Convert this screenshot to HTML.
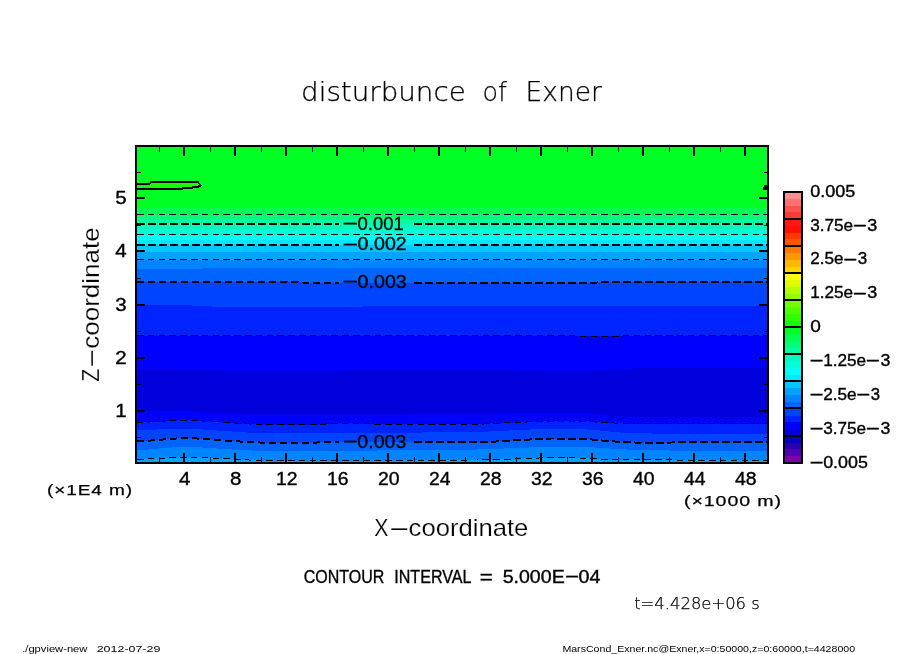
<!DOCTYPE html>
<html lang="en"><head><meta charset="utf-8"><title>disturbunce of Exner</title>
<style>
html,body{margin:0;padding:0;background:#fff;}
body{width:904px;height:654px;overflow:hidden;}
svg{display:block;}
text{font-family:"Liberation Sans","DejaVu Sans",sans-serif;fill:#000;}
.thin{font-family:"DejaVu Sans Light","DejaVu Sans","Liberation Sans",sans-serif;font-weight:200;}
.ce{shape-rendering:crispEdges;}
.b{stroke:#000;stroke-width:0.35px;}
.l{stroke:#fff;stroke-width:0.2px;}
.u{letter-spacing:0.7px;stroke:#000;stroke-width:0.25px;}
.thin{stroke:#000;stroke-width:0.25px;}
</style></head><body>
<svg width="904" height="654" viewBox="0 0 904 654">
<rect x="0" y="0" width="904" height="654" fill="#fff"/>
<g class="ce">
<rect x="137" y="147" width="630" height="315" fill="#00ff24"/>
<polygon points="137,207.6 767,207.6 767,462 137,462" fill="#00ff50"/>
<polygon points="137,214.5 767,214.5 767,462 137,462" fill="#00ff78"/>
<polygon points="137,219.1 767,219.1 767,462 137,462" fill="#00ffa0"/>
<polygon points="137,224 767,224 767,462 137,462" fill="#00ffb8"/>
<polygon points="137,229 767,229 767,462 137,462" fill="#00ffd8"/>
<polygon points="137,234.5 767,234.5 767,462 137,462" fill="#00fff8"/>
<polygon points="137,239.8 767,239.8 767,462 137,462" fill="#00e8ff"/>
<polygon points="137,245 767,245 767,462 137,462" fill="#00c8ff"/>
<polygon points="137,252 767,252 767,462 137,462" fill="#00a4ff"/>
<polygon points="137,259.5 767,259.5 767,462 137,462" fill="#0084ff"/>
<polygon points="137,269 147,268.9 157,268.8 167,268.8 177,268.7 187,268.6 197,268.5 202,268.5 207,268.4 212,268.3 217,268.2 222,268.1 227,268 232,268 237,267.9 242,267.8 247,267.7 252,267.6 257,267.6 267,267.5 767,267.5 767,462 137,462" fill="#0064ff"/>
<polygon points="137,282 177,282.1 217,282.1 257,282.2 282,282.2 287,282.3 292,282.4 297,282.4 302,282.5 307,282.6 312,282.6 317,282.7 322,282.8 327,282.8 332,282.9 337,282.9 347,283 532,282.9 542,282.8 552,282.8 562,282.7 572,282.6 582,282.6 592,282.5 602,282.4 612,282.4 622,282.3 647,282.2 672,282.2 697,282.1 722,282.1 747,282 767,282 767,462 137,462" fill="#0044ff"/>
<polygon points="137,304.9 167,305 182,305 187,305.2 192,305.5 197,305.9 202,306.3 207,306.4 212,306.5 362,306.5 367,306.4 372,306.2 377,306 382,305.7 387,305.6 547,305.7 647,305.7 747,305.8 767,305.8 767,462 137,462" fill="#0024ff"/>
<polygon points="137,335.5 557,335.5 562,335.6 567,335.7 572,335.8 577,336 582,336.1 587,336.3 592,336.4 597,336.5 602,336.4 607,336.4 612,336.2 617,336.1 622,336 627,335.8 632,335.7 637,335.6 642,335.5 767,335.5 767,462 137,462" fill="#0000ff"/>
<polygon points="137,368.6 142,368.6 147,368.8 152,368.9 157,369 162,369.1 167,369.3 172,369.4 177,369.5 182,369.6 187,369.8 192,369.9 197,370 202,370.1 207,370.3 212,370.4 217,370.5 222,370.6 227,370.8 232,370.9 237,370.9 262,370.9 272,370.8 282,370.8 292,370.7 302,370.7 312,370.6 322,370.6 332,370.5 342,370.5 352,370.4 362,370.4 372,370.3 382,370.2 392,370.2 402,370.1 412,370.1 422,370 432,370 447,369.9 462,370 472,370.1 482,370.2 492,370.2 502,370.3 512,370.4 522,370.5 532,370.5 542,370.6 552,370.7 562,370.8 572,370.9 582,370.9 587,370.9 592,370.7 597,370.5 602,370.1 607,369.8 612,369.4 617,369.1 622,368.8 627,368.6 632,368.5 642,368.4 657,368.4 672,368.3 687,368.3 702,368.2 717,368.2 732,368.1 747,368.1 762,368 767,368 767,462 137,462" fill="#0000dc"/>
<polygon points="137,411 152,410.9 167,410.9 177,410.8 182,410.9 187,411 192,411.3 197,411.6 202,411.9 207,412.3 212,412.6 217,412.9 222,413.2 227,413.4 232,413.6 237,413.8 242,414 247,414.2 252,414.5 257,414.6 262,414.8 267,414.9 272,414.9 277,415 282,415.1 287,415.1 292,415.2 302,415.3 317,415.2 327,415.1 337,415 347,414.9 357,414.8 367,414.8 377,414.7 387,414.6 397,414.5 407,414.5 417,414.4 427,414.3 437,414.3 447,414.2 457,414.1 467,414.1 477,414 482,413.9 487,413.8 492,413.7 497,413.6 502,413.5 507,413.4 512,413.3 517,413.1 522,413 527,412.9 532,412.8 537,412.7 562,412.8 572,412.9 577,412.9 582,413 587,413.1 592,413.5 597,414 602,414.6 607,415.2 612,415.8 617,416.1 622,416.4 627,416.5 632,416.5 637,416.6 642,416.7 647,416.8 652,416.8 657,416.9 662,417 667,417.1 672,417.1 677,417.2 682,417.3 692,417.3 702,417.3 707,417.2 712,417.1 717,417.1 722,417 727,417 732,416.9 737,416.9 742,416.8 747,416.7 752,416.7 757,416.6 762,416.6 767,416.5 767,462 137,462" fill="#0000ff"/>
<polygon points="137,422.6 142,422.4 147,422.1 152,421.9 157,421.6 162,421.3 167,421 172,420.7 177,420.5 182,420.3 187,420.3 192,420.5 197,420.7 202,421 207,421.3 212,421.6 217,421.9 222,422.2 227,422.5 232,422.8 237,423.2 242,423.5 247,423.8 252,424.2 257,424.5 262,424.7 267,424.9 312,424.9 317,424.7 322,424.3 327,423.9 332,423.6 337,423.4 357,423.4 362,423.6 367,423.8 372,424.1 377,424.3 382,424.4 472,424.4 477,424.3 482,424.1 487,423.8 492,423.4 497,423.2 502,422.9 507,422.8 512,422.6 517,422.4 522,422.2 527,422 532,421.8 537,421.6 542,421.4 547,421.3 552,421.2 582,421.2 587,421.4 592,421.7 597,422.1 602,422.5 607,422.7 612,422.9 617,423.2 622,423.3 627,423.5 632,423.7 637,423.8 642,423.8 687,423.8 712,423.7 737,423.7 762,423.6 767,423.6 767,462 137,462" fill="#0024ff"/>
<polygon points="137,430.3 142,430.2 147,430 152,429.7 157,429.5 162,429.3 167,429.1 172,428.9 177,428.7 182,428.6 187,428.6 192,428.8 197,429.1 202,429.4 207,429.8 212,430.1 217,430.5 222,430.8 227,431.1 232,431.5 237,431.8 242,432.2 247,432.5 252,432.9 257,433.2 262,433.4 267,433.5 272,433.4 277,433.4 282,433.3 287,433.2 292,433.1 297,433.1 302,433 307,432.9 312,432.8 317,432.8 327,432.7 407,432.6 412,432.6 417,432.5 422,432.5 427,432.4 432,432.4 437,432.3 442,432.3 452,432.2 457,432.1 462,432.1 467,432 472,432 477,431.9 482,431.7 487,431.6 492,431.3 497,431.1 502,430.9 507,430.6 512,430.4 517,430.1 522,429.9 527,429.7 532,429.4 537,429.2 542,429 547,428.9 557,429 562,429 567,429.1 572,429.2 577,429.2 582,429.3 587,429.5 592,429.8 597,430.2 602,430.7 607,431.3 612,431.8 617,432.3 622,432.6 627,432.8 632,433 637,433.1 642,433.2 647,433.4 652,433.5 657,433.6 662,433.7 667,433.8 672,434 677,434.1 682,434.2 687,434.3 702,434.3 707,434.2 712,434.1 717,434.1 722,434 727,434 732,433.9 737,433.9 742,433.8 747,433.7 752,433.7 757,433.6 762,433.6 767,433.5 767,462 137,462" fill="#0044ff"/>
<polygon points="137,441.4 142,441.1 147,440.8 152,440.4 157,440 162,439.6 167,439.2 172,438.8 177,438.4 182,438.1 187,438.1 192,438.2 197,438.5 202,438.9 207,439.2 212,439.6 217,439.9 222,440.3 227,440.6 232,440.9 237,441.3 242,441.6 247,441.9 252,442.2 257,442.4 262,442.6 267,442.7 302,442.6 307,442.6 312,442.5 317,442.5 322,442.4 327,442.3 332,442.3 342,442.2 482,442.2 487,442.1 492,441.8 497,441.4 502,441 507,440.7 512,440.5 517,440.3 522,440 527,439.7 532,439.4 537,439.1 542,438.8 547,438.6 552,438.5 577,438.5 582,438.7 587,439 592,439.5 597,440 602,440.5 607,441 612,441.3 617,441.7 622,441.9 627,442.2 632,442.4 637,442.6 642,442.7 647,442.8 652,442.8 657,442.7 662,442.6 667,442.6 672,442.5 677,442.4 682,442.3 687,442.3 692,442.2 702,442.1 712,442.1 722,442 732,441.9 742,441.9 752,441.8 762,441.7 767,441.7 767,462 137,462" fill="#0064ff"/>
<polygon points="137,450.2 142,449.9 147,449.6 152,449.1 157,448.7 162,448.3 167,447.9 172,447.5 177,447.1 182,446.8 187,446.8 192,446.9 197,447.2 202,447.5 207,447.8 212,448.2 217,448.5 222,448.8 227,449.1 232,449.5 237,449.8 242,450.1 247,450.3 252,450.5 257,450.7 262,450.9 267,451 287,450.9 302,450.8 317,450.8 332,450.7 347,450.6 362,450.6 377,450.5 392,450.4 402,450.4 407,450.3 412,450.3 417,450.2 422,450.2 427,450.1 432,450 437,450 442,449.9 447,449.9 452,449.8 457,449.8 462,449.7 467,449.6 472,449.6 477,449.5 482,449.4 487,449.2 492,449 497,448.8 502,448.6 507,448.4 512,448.2 517,448 522,447.8 527,447.6 532,447.4 537,447.2 542,447.1 547,447 567,447 577,447.1 582,447.2 587,447.3 592,447.4 597,447.7 602,448 607,448.4 612,448.7 617,449 622,449.3 627,449.5 632,449.6 637,449.7 642,449.8 647,450 652,450.1 657,450.2 662,450.3 667,450.4 672,450.6 677,450.7 682,450.8 687,450.9 697,450.9 707,450.9 717,450.8 727,450.8 737,450.7 747,450.6 757,450.6 767,450.5 767,462 137,462" fill="#0084ff"/>
<polygon points="137,459.2 142,459.1 147,458.9 152,458.6 157,458.4 162,458.2 167,458 172,457.8 177,457.6 182,457.4 187,457.2 192,457.2 197,457.4 202,457.6 207,457.9 212,458.1 217,458.3 222,458.6 227,458.9 232,459.1 237,459.4 242,459.6 247,459.9 252,460.2 257,460.4 262,460.6 267,460.7 327,460.6 362,460.6 397,460.5 422,460.4 442,460.4 447,460.3 452,460.3 457,460.2 462,460.1 467,460.1 472,460 477,460 482,459.9 487,459.8 492,459.7 497,459.6 502,459.4 507,459.2 512,459.1 517,458.9 522,458.7 527,458.5 532,458.3 537,458.1 542,457.9 547,457.8 562,457.9 572,457.9 577,458 582,458.1 587,458.2 592,458.5 597,458.9 602,459.3 607,459.6 612,459.7 622,459.7 632,459.8 642,459.8 652,459.9 662,459.9 672,460 682,460.1 692,460.1 707,460.2 722,460.2 737,460.3 752,460.3 767,460.4 767,462 137,462" fill="#00a4ff"/>
<polygon points="137,183 150,183 151,182 198,182 200.5,185.3 198,187 192.5,187 192,188 182.5,188 182,189 137,189" fill="#14ff00"/>
</g>
<g fill="none" stroke="#000" class="ce">
<path d="M137,214.5 L767,214.5" stroke-width="1" stroke-dasharray="6.5 4.3"/>
<path d="M137,224 L338.6,224" stroke-width="2" stroke-dasharray="7.5 3.5"/>
<path d="M414.3,224 L767,224" stroke-width="2" stroke-dasharray="7.5 3.5"/>
<path d="M137,234.5 L767,234.5" stroke-width="1" stroke-dasharray="6.5 4.3"/>
<path d="M137,245 L338.6,245" stroke-width="2" stroke-dasharray="7.5 3.5"/>
<path d="M414.3,245 L767,245" stroke-width="2" stroke-dasharray="7.5 3.5"/>
<path d="M137,259.5 L767,259.5" stroke-width="1" stroke-dasharray="6.5 4.3"/>
<path d="M137,282 L177,282.1 L217,282.1 L257,282.2 L282,282.2 L287,282.3 L292,282.4 L297,282.4 L302,282.5 L307,282.6 L312,282.6 L317,282.7 L322,282.8 L327,282.8 L332,282.9 L337,282.9 L338.6,283" stroke-width="2" stroke-dasharray="7.5 3.5"/>
<path d="M414.3,283 L527,282.9 L537,282.9 L547,282.8 L557,282.7 L567,282.7 L577,282.6 L587,282.5 L597,282.5 L607,282.4 L617,282.3 L632,282.3 L657,282.2 L682,282.2 L707,282.1 L732,282.1 L757,282 L767,282" stroke-width="2" stroke-dasharray="7.5 3.5"/>
<path d="M137,335.5 L557,335.5 L562,335.6 L567,335.7 L572,335.8 L577,336 L582,336.1 L587,336.3 L592,336.4 L597,336.5 L602,336.4 L607,336.4 L612,336.2 L617,336.1 L622,336 L627,335.8 L632,335.7 L637,335.6 L642,335.5 L767,335.5" stroke-width="1" stroke-dasharray="6.5 4.3"/>
<path d="M137,422.6 L142,422.4 L147,422.1 L152,421.9 L157,421.6 L162,421.3 L167,421 L172,420.7 L177,420.5 L182,420.3 L187,420.3 L192,420.5 L197,420.7 L202,421 L207,421.3 L212,421.6 L217,421.9 L222,422.2 L227,422.5 L232,422.8 L237,423.2 L242,423.5 L247,423.8 L252,424.2 L257,424.5 L262,424.7 L267,424.9 L312,424.9 L317,424.7 L322,424.3 L327,423.9 L332,423.6 L337,423.4 L357,423.4 L362,423.6 L367,423.8 L372,424.1 L377,424.3 L382,424.4 L472,424.4 L477,424.3 L482,424.1 L487,423.8 L492,423.4 L497,423.2 L502,422.9 L507,422.8 L512,422.6 L517,422.4 L522,422.2 L527,422 L532,421.8 L537,421.6 L542,421.4 L547,421.3 L552,421.2 L582,421.2 L587,421.4 L592,421.7 L597,422.1 L602,422.5 L607,422.7 L612,422.9 L617,423.2 L622,423.3 L627,423.5 L632,423.7 L637,423.8 L642,423.8 L687,423.8 L712,423.7 L737,423.7 L762,423.6 L767,423.6" stroke-width="1" stroke-dasharray="6.5 4.3"/>
<path d="M137,441.4 L142,441.1 L147,440.8 L152,440.4 L157,440 L162,439.6 L167,439.2 L172,438.8 L177,438.4 L182,438.1 L187,438.1 L192,438.2 L197,438.5 L202,438.9 L207,439.2 L212,439.6 L217,439.9 L222,440.3 L227,440.6 L232,440.9 L237,441.3 L242,441.6 L247,441.9 L252,442.2 L257,442.4 L262,442.6 L267,442.7 L302,442.6 L307,442.6 L312,442.5 L317,442.5 L322,442.4 L327,442.3 L332,442.3 L338.6,442.2" stroke-width="2" stroke-dasharray="7.5 3.5"/>
<path d="M414.3,442.2 L482,442.2 L487,442.1 L492,441.8 L497,441.4 L502,441 L507,440.7 L512,440.5 L517,440.3 L522,440 L527,439.7 L532,439.4 L537,439.1 L542,438.8 L547,438.6 L552,438.5 L577,438.5 L582,438.7 L587,439 L592,439.5 L597,440 L602,440.5 L607,441 L612,441.3 L617,441.7 L622,441.9 L627,442.2 L632,442.4 L637,442.6 L642,442.7 L647,442.8 L652,442.8 L657,442.7 L662,442.6 L667,442.6 L672,442.5 L677,442.4 L682,442.3 L687,442.3 L692,442.2 L702,442.1 L712,442.1 L722,442 L732,441.9 L742,441.9 L752,441.8 L762,441.7 L767,441.7" stroke-width="2" stroke-dasharray="7.5 3.5"/>
<path d="M137,459.2 L142,459.1 L147,458.9 L152,458.6 L157,458.4 L162,458.2 L167,458 L172,457.8 L177,457.6 L182,457.4 L187,457.2 L192,457.2 L197,457.4 L202,457.6 L207,457.9 L212,458.1 L217,458.3 L222,458.6 L227,458.9 L232,459.1 L237,459.4 L242,459.6 L247,459.9 L252,460.2 L257,460.4 L262,460.6 L267,460.7 L327,460.6 L362,460.6 L397,460.5 L422,460.4 L442,460.4 L447,460.3 L452,460.3 L457,460.2 L462,460.1 L467,460.1 L472,460 L477,460 L482,459.9 L487,459.8 L492,459.7 L497,459.6 L502,459.4 L507,459.2 L512,459.1 L517,458.9 L522,458.7 L527,458.5 L532,458.3 L537,458.1 L542,457.9 L547,457.8 L562,457.9 L572,457.9 L577,458 L582,458.1 L587,458.2 L592,458.5 L597,458.9 L602,459.3 L607,459.6 L612,459.7 L622,459.7 L632,459.8 L642,459.8 L652,459.9 L662,459.9 L672,460 L682,460.1 L692,460.1 L707,460.2 L722,460.2 L737,460.3 L752,460.3 L767,460.4" stroke-width="1" stroke-dasharray="6.5 4.3"/>
<path d="M137,183.5 L150,183.5 L151,182.3 L198,182.3 L200.6,185.3 L198,187 L192.5,187 L192,188 L182.5,188 L182,189.2 L137,189.2" stroke-width="2"/>
<path d="M767,185.5 L764.5,186 L763.5,188 L764,189.5 L767,189.5 Z" fill="#000" stroke-width="1"/>
</g>
<g fill="none" stroke="#000" class="ce">
<rect x="136" y="146" width="632" height="317" stroke-width="2"/>
<line x1="159.5" y1="147" x2="159.5" y2="152" stroke-width="1"/>
<line x1="159.5" y1="462" x2="159.5" y2="457" stroke-width="1"/>
<line x1="184" y1="147" x2="184" y2="156" stroke-width="2"/>
<line x1="184" y1="462" x2="184" y2="453" stroke-width="2"/>
<line x1="210.5" y1="147" x2="210.5" y2="152" stroke-width="1"/>
<line x1="210.5" y1="462" x2="210.5" y2="457" stroke-width="1"/>
<line x1="235" y1="147" x2="235" y2="156" stroke-width="2"/>
<line x1="235" y1="462" x2="235" y2="453" stroke-width="2"/>
<line x1="261.5" y1="147" x2="261.5" y2="152" stroke-width="1"/>
<line x1="261.5" y1="462" x2="261.5" y2="457" stroke-width="1"/>
<line x1="286" y1="147" x2="286" y2="156" stroke-width="2"/>
<line x1="286" y1="462" x2="286" y2="453" stroke-width="2"/>
<line x1="312.5" y1="147" x2="312.5" y2="152" stroke-width="1"/>
<line x1="312.5" y1="462" x2="312.5" y2="457" stroke-width="1"/>
<line x1="337" y1="147" x2="337" y2="156" stroke-width="2"/>
<line x1="337" y1="462" x2="337" y2="453" stroke-width="2"/>
<line x1="363.5" y1="147" x2="363.5" y2="152" stroke-width="1"/>
<line x1="363.5" y1="462" x2="363.5" y2="457" stroke-width="1"/>
<line x1="388" y1="147" x2="388" y2="156" stroke-width="2"/>
<line x1="388" y1="462" x2="388" y2="453" stroke-width="2"/>
<line x1="414.5" y1="147" x2="414.5" y2="152" stroke-width="1"/>
<line x1="414.5" y1="462" x2="414.5" y2="457" stroke-width="1"/>
<line x1="439" y1="147" x2="439" y2="156" stroke-width="2"/>
<line x1="439" y1="462" x2="439" y2="453" stroke-width="2"/>
<line x1="465.5" y1="147" x2="465.5" y2="152" stroke-width="1"/>
<line x1="465.5" y1="462" x2="465.5" y2="457" stroke-width="1"/>
<line x1="490" y1="147" x2="490" y2="156" stroke-width="2"/>
<line x1="490" y1="462" x2="490" y2="453" stroke-width="2"/>
<line x1="516.5" y1="147" x2="516.5" y2="152" stroke-width="1"/>
<line x1="516.5" y1="462" x2="516.5" y2="457" stroke-width="1"/>
<line x1="541" y1="147" x2="541" y2="156" stroke-width="2"/>
<line x1="541" y1="462" x2="541" y2="453" stroke-width="2"/>
<line x1="567.5" y1="147" x2="567.5" y2="152" stroke-width="1"/>
<line x1="567.5" y1="462" x2="567.5" y2="457" stroke-width="1"/>
<line x1="592" y1="147" x2="592" y2="156" stroke-width="2"/>
<line x1="592" y1="462" x2="592" y2="453" stroke-width="2"/>
<line x1="618.5" y1="147" x2="618.5" y2="152" stroke-width="1"/>
<line x1="618.5" y1="462" x2="618.5" y2="457" stroke-width="1"/>
<line x1="643" y1="147" x2="643" y2="156" stroke-width="2"/>
<line x1="643" y1="462" x2="643" y2="453" stroke-width="2"/>
<line x1="669.5" y1="147" x2="669.5" y2="152" stroke-width="1"/>
<line x1="669.5" y1="462" x2="669.5" y2="457" stroke-width="1"/>
<line x1="694" y1="147" x2="694" y2="156" stroke-width="2"/>
<line x1="694" y1="462" x2="694" y2="453" stroke-width="2"/>
<line x1="720.5" y1="147" x2="720.5" y2="152" stroke-width="1"/>
<line x1="720.5" y1="462" x2="720.5" y2="457" stroke-width="1"/>
<line x1="745" y1="147" x2="745" y2="156" stroke-width="2"/>
<line x1="745" y1="462" x2="745" y2="453" stroke-width="2"/>
<line x1="137" y1="198" x2="145" y2="198" stroke-width="2"/>
<line x1="767" y1="198" x2="759" y2="198" stroke-width="2"/>
<line x1="137" y1="251" x2="145" y2="251" stroke-width="2"/>
<line x1="767" y1="251" x2="759" y2="251" stroke-width="2"/>
<line x1="137" y1="305" x2="145" y2="305" stroke-width="2"/>
<line x1="767" y1="305" x2="759" y2="305" stroke-width="2"/>
<line x1="137" y1="358" x2="145" y2="358" stroke-width="2"/>
<line x1="767" y1="358" x2="759" y2="358" stroke-width="2"/>
<line x1="137" y1="411" x2="145" y2="411" stroke-width="2"/>
<line x1="767" y1="411" x2="759" y2="411" stroke-width="2"/>
<line x1="137" y1="172.5" x2="141" y2="172.5" stroke-width="1"/>
<line x1="767" y1="172.5" x2="764" y2="172.5" stroke-width="1"/>
<line x1="137" y1="225.5" x2="141" y2="225.5" stroke-width="1"/>
<line x1="767" y1="225.5" x2="764" y2="225.5" stroke-width="1"/>
<line x1="137" y1="278.5" x2="141" y2="278.5" stroke-width="1"/>
<line x1="767" y1="278.5" x2="764" y2="278.5" stroke-width="1"/>
<line x1="137" y1="331.5" x2="141" y2="331.5" stroke-width="1"/>
<line x1="767" y1="331.5" x2="764" y2="331.5" stroke-width="1"/>
<line x1="137" y1="384.5" x2="141" y2="384.5" stroke-width="1"/>
<line x1="767" y1="384.5" x2="764" y2="384.5" stroke-width="1"/>
<line x1="137" y1="437.5" x2="141" y2="437.5" stroke-width="1"/>
<line x1="767" y1="437.5" x2="764" y2="437.5" stroke-width="1"/>
</g>
<g class="ce">
<rect x="784" y="192.00" width="18" height="7.38" fill="#ff9090"/>
<rect x="784" y="198.78" width="18" height="7.38" fill="#ff7070"/>
<rect x="784" y="205.55" width="18" height="7.38" fill="#ff5050"/>
<rect x="784" y="212.32" width="18" height="7.38" fill="#ff3838"/>
<rect x="784" y="219.10" width="18" height="7.38" fill="#ff1818"/>
<rect x="784" y="225.88" width="18" height="7.38" fill="#ff1000"/>
<rect x="784" y="232.65" width="18" height="7.38" fill="#ff3800"/>
<rect x="784" y="239.43" width="18" height="7.38" fill="#ff5800"/>
<rect x="784" y="246.20" width="18" height="7.38" fill="#ff7800"/>
<rect x="784" y="252.97" width="18" height="7.38" fill="#ff9800"/>
<rect x="784" y="259.75" width="18" height="7.38" fill="#ffb800"/>
<rect x="784" y="266.52" width="18" height="7.38" fill="#ffd400"/>
<rect x="784" y="273.30" width="18" height="7.38" fill="#ffff10"/>
<rect x="784" y="280.07" width="18" height="7.38" fill="#dcff00"/>
<rect x="784" y="286.85" width="18" height="7.38" fill="#b4ff00"/>
<rect x="784" y="293.62" width="18" height="7.38" fill="#90ff00"/>
<rect x="784" y="300.40" width="18" height="7.38" fill="#74ff00"/>
<rect x="784" y="307.18" width="18" height="7.38" fill="#50ff00"/>
<rect x="784" y="313.95" width="18" height="7.38" fill="#30ff00"/>
<rect x="784" y="320.73" width="18" height="7.38" fill="#14ff00"/>
<rect x="784" y="327.50" width="18" height="7.38" fill="#00ff24"/>
<rect x="784" y="334.27" width="18" height="7.38" fill="#00ff50"/>
<rect x="784" y="341.05" width="18" height="7.38" fill="#00ff78"/>
<rect x="784" y="347.83" width="18" height="7.38" fill="#00ffa0"/>
<rect x="784" y="354.60" width="18" height="7.38" fill="#00ffb8"/>
<rect x="784" y="361.38" width="18" height="7.38" fill="#00ffd8"/>
<rect x="784" y="368.15" width="18" height="7.38" fill="#00fff8"/>
<rect x="784" y="374.93" width="18" height="7.38" fill="#00e8ff"/>
<rect x="784" y="381.70" width="18" height="7.38" fill="#00c8ff"/>
<rect x="784" y="388.48" width="18" height="7.38" fill="#00a4ff"/>
<rect x="784" y="395.25" width="18" height="7.38" fill="#0084ff"/>
<rect x="784" y="402.02" width="18" height="7.38" fill="#0064ff"/>
<rect x="784" y="408.80" width="18" height="7.38" fill="#0044ff"/>
<rect x="784" y="415.58" width="18" height="7.38" fill="#0024ff"/>
<rect x="784" y="422.35" width="18" height="7.38" fill="#0000ff"/>
<rect x="784" y="429.12" width="18" height="7.38" fill="#0000dc"/>
<rect x="784" y="435.90" width="18" height="7.38" fill="#0800c0"/>
<rect x="784" y="442.68" width="18" height="7.38" fill="#2800b0"/>
<rect x="784" y="449.45" width="18" height="7.38" fill="#5000b0"/>
<rect x="784" y="456.23" width="18" height="7.38" fill="#8000b0"/>
<g stroke="#000" stroke-width="2" fill="none">
<line x1="784" y1="219" x2="802" y2="219"/>
<line x1="784" y1="246" x2="802" y2="246"/>
<line x1="784" y1="273" x2="802" y2="273"/>
<line x1="784" y1="300" x2="802" y2="300"/>
<line x1="784" y1="327" x2="802" y2="327"/>
<line x1="784" y1="354" x2="802" y2="354"/>
<line x1="784" y1="381" x2="802" y2="381"/>
<line x1="784" y1="408" x2="802" y2="408"/>
<line x1="784" y1="436" x2="802" y2="436"/>
<rect x="784" y="192" width="18" height="271"/>
</g></g>
<text font-size="26" class="thin"><tspan x="301.1" y="101.3" textLength="164.6" lengthAdjust="spacingAndGlyphs">disturbunce</tspan> <tspan x="482.5" y="101.3" textLength="24.4" lengthAdjust="spacingAndGlyphs">of</tspan> <tspan x="525.6" y="101.3" textLength="76.4" lengthAdjust="spacingAndGlyphs">Exner</tspan></text>
<text x="115.3" y="417.1" font-size="18" textLength="11.4" lengthAdjust="spacingAndGlyphs" class="b">1</text>
<text x="115.3" y="363.8" font-size="18" textLength="11.4" lengthAdjust="spacingAndGlyphs" class="b">2</text>
<text x="115.3" y="310.6" font-size="18" textLength="11.4" lengthAdjust="spacingAndGlyphs" class="b">3</text>
<text x="115.3" y="257.3" font-size="18" textLength="11.4" lengthAdjust="spacingAndGlyphs" class="b">4</text>
<text x="115.3" y="204.1" font-size="18" textLength="11.4" lengthAdjust="spacingAndGlyphs" class="b">5</text>
<text x="184.7" y="485" font-size="18" textLength="11.4" lengthAdjust="spacingAndGlyphs" text-anchor="middle" class="b">4</text>
<text x="235.7" y="485" font-size="18" textLength="11.4" lengthAdjust="spacingAndGlyphs" text-anchor="middle" class="b">8</text>
<text x="286.7" y="485" font-size="18" textLength="21.6" lengthAdjust="spacingAndGlyphs" text-anchor="middle" class="b">12</text>
<text x="337.7" y="485" font-size="18" textLength="21.6" lengthAdjust="spacingAndGlyphs" text-anchor="middle" class="b">16</text>
<text x="388.7" y="485" font-size="18" textLength="21.6" lengthAdjust="spacingAndGlyphs" text-anchor="middle" class="b">20</text>
<text x="439.7" y="485" font-size="18" textLength="21.6" lengthAdjust="spacingAndGlyphs" text-anchor="middle" class="b">24</text>
<text x="490.7" y="485" font-size="18" textLength="21.6" lengthAdjust="spacingAndGlyphs" text-anchor="middle" class="b">28</text>
<text x="541.7" y="485" font-size="18" textLength="21.6" lengthAdjust="spacingAndGlyphs" text-anchor="middle" class="b">32</text>
<text x="592.7" y="485" font-size="18" textLength="21.6" lengthAdjust="spacingAndGlyphs" text-anchor="middle" class="b">36</text>
<text x="643.7" y="485" font-size="18" textLength="21.6" lengthAdjust="spacingAndGlyphs" text-anchor="middle" class="b">40</text>
<text x="694.7" y="485" font-size="18" textLength="21.6" lengthAdjust="spacingAndGlyphs" text-anchor="middle" class="b">44</text>
<text x="745.7" y="485" font-size="18" textLength="21.6" lengthAdjust="spacingAndGlyphs" text-anchor="middle" class="b">48</text>
<text x="47" y="495.4" font-size="15" textLength="86" lengthAdjust="spacingAndGlyphs" class="u">(×1E4 m)</text>
<text x="684" y="505.7" font-size="15" textLength="98" lengthAdjust="spacingAndGlyphs" class="u">(×1000 m)</text>
<text font-size="24" class="l"><tspan x="374.3" y="536.4" textLength="14.2" lengthAdjust="spacingAndGlyphs">X</tspan><tspan x="388.0" y="535.3" textLength="22.7" lengthAdjust="spacingAndGlyphs">-</tspan><tspan x="408.6" y="536.4" textLength="119.7" lengthAdjust="spacingAndGlyphs">coordinate</tspan></text>
<text font-size="24" class="l" transform="translate(98.8,381.5) rotate(-90)"><tspan x="-0.2" y="0" textLength="12.9" lengthAdjust="spacingAndGlyphs">Z</tspan><tspan x="12.7" y="-1.1" textLength="21.2" lengthAdjust="spacingAndGlyphs">-</tspan><tspan x="32.8" y="0" textLength="121.4" lengthAdjust="spacingAndGlyphs">coordinate</tspan></text>
<text font-size="18" class="b"><tspan x="303.7" y="583.1" textLength="80.7" lengthAdjust="spacingAndGlyphs">CONTOUR</tspan> <tspan x="394.2" y="583.1" textLength="76.7" lengthAdjust="spacingAndGlyphs">INTERVAL</tspan> <tspan x="479.7" y="583.1" textLength="13.1" lengthAdjust="spacingAndGlyphs">=</tspan> <tspan x="502.7" y="583.1" textLength="62.0" lengthAdjust="spacingAndGlyphs">5.000E</tspan><tspan x="564.4" y="582.3" textLength="15.3" lengthAdjust="spacingAndGlyphs">-</tspan><tspan x="578.6" y="583.1" textLength="21.9" lengthAdjust="spacingAndGlyphs">04</tspan></text>
<text x="634.2" y="608.5" font-size="16.5" textLength="125.6" lengthAdjust="spacingAndGlyphs" class="thin">t=4.428e+06 s</text>
<text x="22.2" y="651.5" font-size="9" textLength="65.2" lengthAdjust="spacingAndGlyphs">./gpview-new</text>
<text x="96.7" y="651.5" font-size="9" textLength="63.7" lengthAdjust="spacingAndGlyphs">2012-07-29</text>
<text x="562.4" y="651.5" font-size="9" textLength="292.7" lengthAdjust="spacingAndGlyphs">MarsCond_Exner.nc@Exner,x=0:50000,z=0:60000,t=4428000</text>
<text font-size="16" class="b"><tspan x="810.2" y="196.6" textLength="45.0" lengthAdjust="spacingAndGlyphs">0.005</tspan></text>
<text font-size="16" class="b"><tspan x="810.2" y="230.5" textLength="43.0" lengthAdjust="spacingAndGlyphs">3.75e</tspan><tspan x="852.4" y="229.8" textLength="15.1" lengthAdjust="spacingAndGlyphs">-</tspan><tspan x="867.2" y="230.5" textLength="10.0" lengthAdjust="spacingAndGlyphs">3</tspan></text>
<text font-size="16" class="b"><tspan x="810.2" y="264.4" textLength="33.3" lengthAdjust="spacingAndGlyphs">2.5e</tspan><tspan x="842.7" y="263.7" textLength="15.1" lengthAdjust="spacingAndGlyphs">-</tspan><tspan x="857.7" y="264.4" textLength="9.5" lengthAdjust="spacingAndGlyphs">3</tspan></text>
<text font-size="16" class="b"><tspan x="810.2" y="298.2" textLength="43.0" lengthAdjust="spacingAndGlyphs">1.25e</tspan><tspan x="852.4" y="297.5" textLength="15.1" lengthAdjust="spacingAndGlyphs">-</tspan><tspan x="867.2" y="298.2" textLength="10.0" lengthAdjust="spacingAndGlyphs">3</tspan></text>
<text x="810.3" y="332.1" font-size="16" textLength="10.6" lengthAdjust="spacingAndGlyphs" class="b">0</text>
<text font-size="16" class="b"><tspan x="809.0" y="365.3" textLength="15.1" lengthAdjust="spacingAndGlyphs">-</tspan><tspan x="823.2" y="366.0" textLength="43.0" lengthAdjust="spacingAndGlyphs">1.25e</tspan><tspan x="865.4" y="365.3" textLength="15.1" lengthAdjust="spacingAndGlyphs">-</tspan><tspan x="880.4" y="366.0" textLength="9.9" lengthAdjust="spacingAndGlyphs">3</tspan></text>
<text font-size="16" class="b"><tspan x="809.0" y="399.2" textLength="15.1" lengthAdjust="spacingAndGlyphs">-</tspan><tspan x="823.2" y="399.9" textLength="33.4" lengthAdjust="spacingAndGlyphs">2.5e</tspan><tspan x="855.8" y="399.2" textLength="15.1" lengthAdjust="spacingAndGlyphs">-</tspan><tspan x="870.7" y="399.9" textLength="9.3" lengthAdjust="spacingAndGlyphs">3</tspan></text>
<text font-size="16" class="b"><tspan x="809.0" y="433.1" textLength="15.1" lengthAdjust="spacingAndGlyphs">-</tspan><tspan x="823.2" y="433.8" textLength="43.0" lengthAdjust="spacingAndGlyphs">3.75e</tspan><tspan x="865.4" y="433.1" textLength="15.1" lengthAdjust="spacingAndGlyphs">-</tspan><tspan x="880.4" y="433.8" textLength="9.9" lengthAdjust="spacingAndGlyphs">3</tspan></text>
<text font-size="16" class="b"><tspan x="809.0" y="466.9" textLength="15.1" lengthAdjust="spacingAndGlyphs">-</tspan><tspan x="823.2" y="467.6" textLength="44.7" lengthAdjust="spacingAndGlyphs">0.005</tspan></text>
<text font-size="17.5" class="b"><tspan x="341.8" y="229.0" textLength="17.0" lengthAdjust="spacingAndGlyphs">-</tspan><tspan x="357.6" y="229.8" textLength="46.2" lengthAdjust="spacingAndGlyphs">0.001</tspan></text>
<text font-size="17.5" class="b"><tspan x="341.8" y="249.5" textLength="17.0" lengthAdjust="spacingAndGlyphs">-</tspan><tspan x="357.6" y="250.3" textLength="49.2" lengthAdjust="spacingAndGlyphs">0.002</tspan></text>
<text font-size="17.5" class="b"><tspan x="341.8" y="287.0" textLength="17.0" lengthAdjust="spacingAndGlyphs">-</tspan><tspan x="357.6" y="287.8" textLength="49.2" lengthAdjust="spacingAndGlyphs">0.003</tspan></text>
<text font-size="17.5" class="b"><tspan x="342.6" y="447.0" textLength="15.8" lengthAdjust="spacingAndGlyphs">-</tspan><tspan x="357.3" y="447.8" textLength="49.0" lengthAdjust="spacingAndGlyphs">0.003</tspan></text>
</svg></body></html>
